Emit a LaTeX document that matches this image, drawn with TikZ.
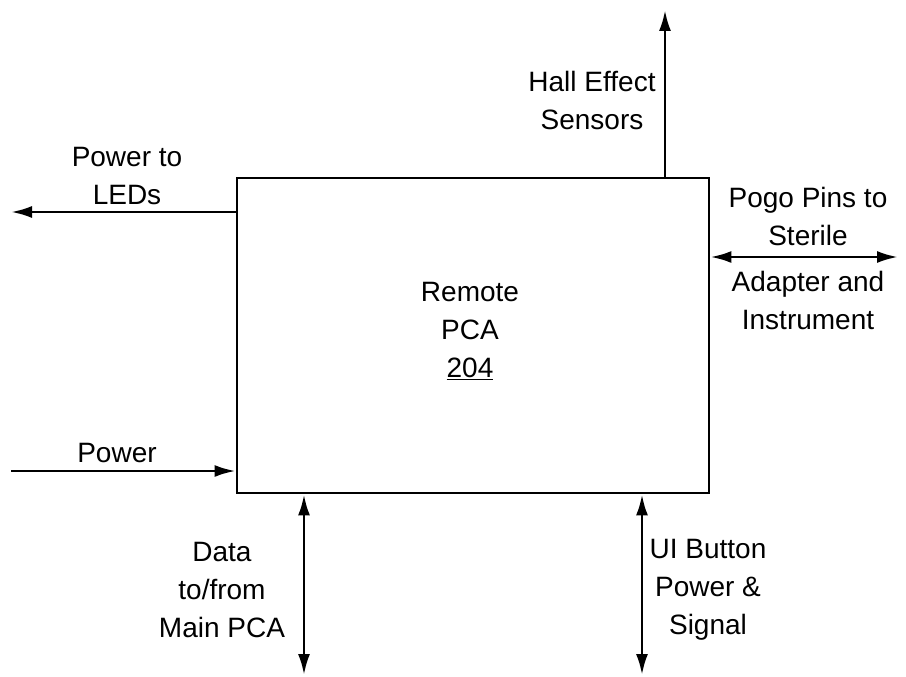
\documentclass[tikz,border=0pt]{standalone}
\usepackage{fontspec}
\setmainfont{Liberation Sans}
\usetikzlibrary{arrows.meta,positioning,calc}

\tikzset{
  blk/.style={draw, line width=2.8pt, inner sep=0pt},
  lbl/.style={font=\fontsize{28}{38}\selectfont, align=center, inner sep=0pt},
  sig/.style={line width=2.8pt, -{Latex[length=21pt,width=12pt]}},
  bus/.style={line width=2.8pt, {Latex[length=21pt,width=12pt]}-{Latex[length=21pt,width=12pt]}}
}

\begin{document}
\begin{tikzpicture}[x=1pt, y=-1pt]

 \useasboundingbox (0,0) rectangle (906,677);

 % the board
 \node (pca) [blk, minimum width=472pt, minimum height=315pt] at (473,335.5) {};
 \node (pcatext) [lbl] at (470,331) {Remote\\PCA\\\underline{204}};

 % free ends of the lines
 \coordinate (ledsend) at (11,212);
 \coordinate (pwrend) at (11,471);
 \coordinate (hallend) at (665,10);
 \coordinate (pogoend) at (898,257);
 \coordinate (dataend) at (304,675);
 \coordinate (uiend) at (642,675);

 \draw[sig] (pca.west |- ledsend) -- (ledsend);
 \draw[sig] (pwrend) -- (pca.west |- pwrend);
 \draw[sig] (hallend |- pca.north) -- (hallend);
 \draw[bus] (pca.east |- pogoend) -- (pogoend);
 \draw[bus] (dataend |- pca.south) -- (dataend);
 \draw[bus] (uiend |- pca.south) -- (uiend);

 % labels
 \node (ledslbl) [lbl] at (127,176) {Power to\\LEDs};
 \node (pwrlbl) [lbl] at (117,453) {Power};
 \node (halllbl) [lbl] at (592,100) {Hall Effect\\Sensors};
 \node (pogolbl) [lbl] at (808,216) {Pogo Pins to\\Sterile};
 \node (pogolbl2) [lbl] at (808,300) {Adapter and\\Instrument};
 \node (datalbl) [lbl] at (222,590) {Data\\to/from\\Main PCA};
 \node (uilbl) [lbl] at (708,590) {UI Button\\Power \&\\Signal};

\end{tikzpicture}
\end{document}
